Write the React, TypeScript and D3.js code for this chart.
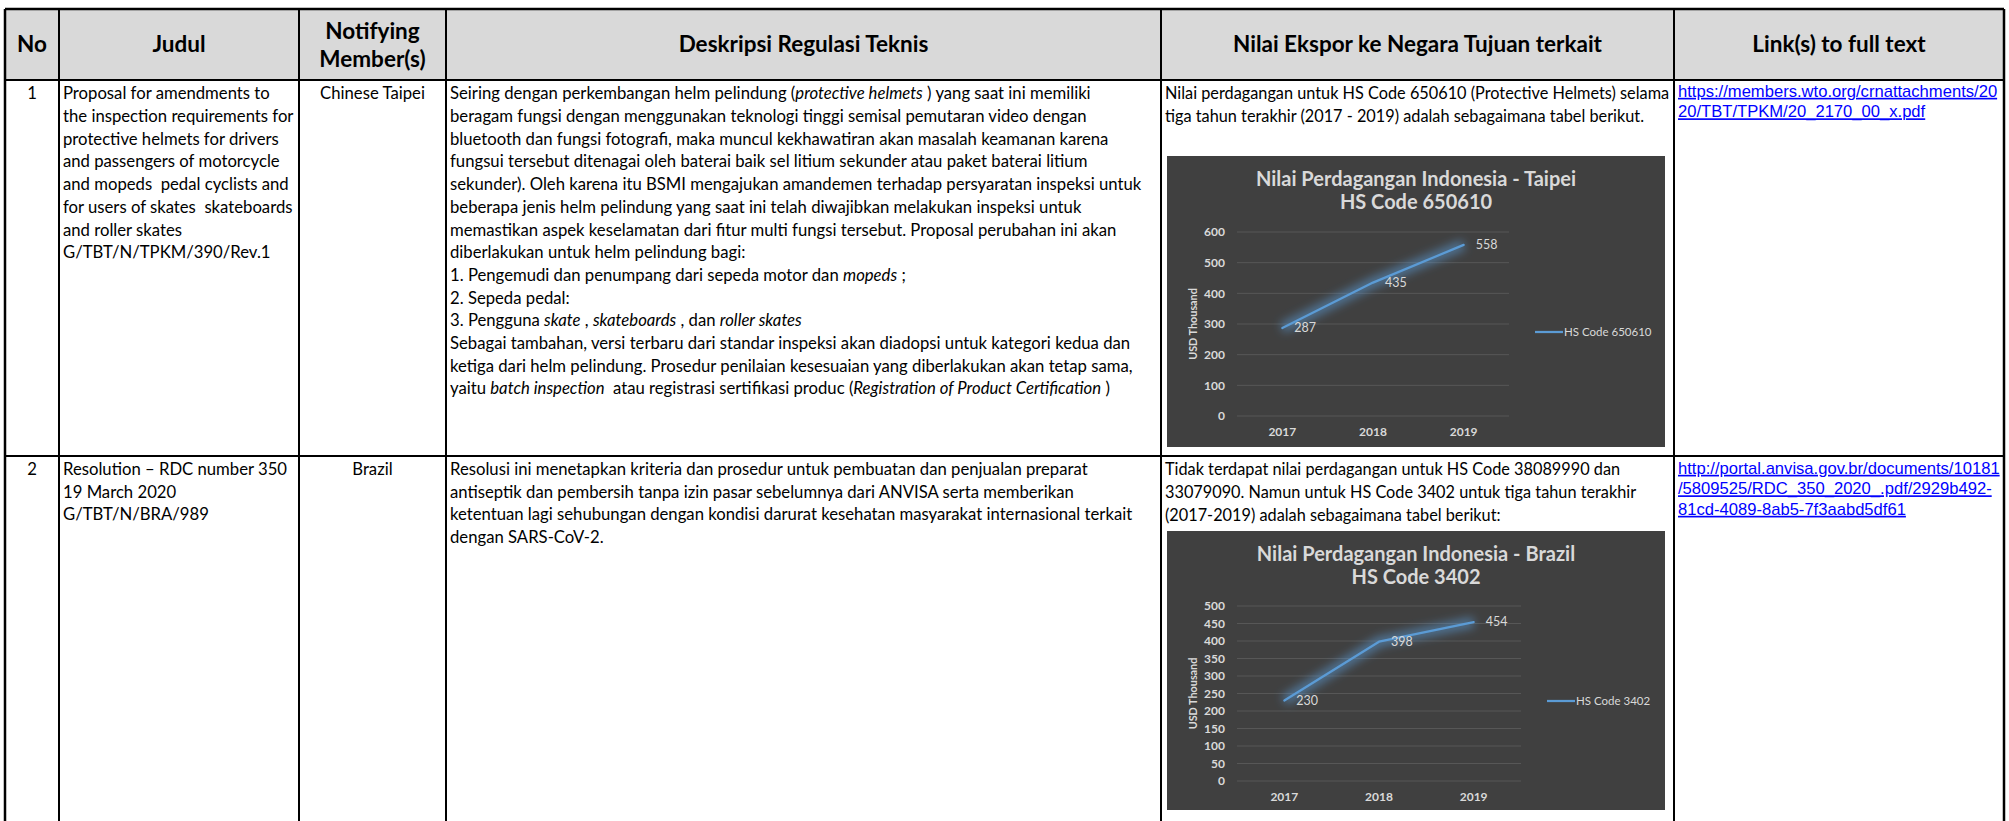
import React from "react";
import * as d3 from "d3";

// chart data
const years = ["2017", "2018", "2019"];
const taipeiValues = [287, 435, 558];
const brazilValues = [230, 398, 454];
const taipeiTicks = [0, 100, 200, 300, 400, 500, 600];
const brazilTicks = [0, 50, 100, 150, 200, 250, 300, 350, 400, 450, 500];

// table text ( _x_ = italic )
const headers = [["No"], ["Judul"], ["Notifying", "Member(s)"], ["Deskripsi Regulasi Teknis"], ["Nilai Ekspor ke Negara Tujuan terkait"], ["Link(s) to full text"]];

const row1Judul = [
  "Proposal for amendments to",
  "the inspection requirements for",
  "protective helmets for drivers",
  "and passengers of motorcycle",
  "and mopeds  pedal cyclists and",
  "for users of skates  skateboards",
  "and roller skates",
  "G/TBT/N/TPKM/390/Rev.1",
];
const row1Desc = [
  "Seiring dengan perkembangan helm pelindung (_protective helmets_ ) yang saat ini memiliki",
  "beragam fungsi dengan menggunakan teknologi tinggi semisal pemutaran video dengan",
  "bluetooth dan fungsi fotografi, maka muncul kekhawatiran akan masalah keamanan karena",
  "fungsui tersebut ditenagai oleh baterai baik sel litium sekunder atau paket baterai litium",
  "sekunder). Oleh karena itu BSMI mengajukan amandemen terhadap persyaratan inspeksi untuk",
  "beberapa jenis helm pelindung yang saat ini telah diwajibkan melakukan inspeksi untuk",
  "memastikan aspek keselamatan dari fitur multi fungsi tersebut. Proposal perubahan ini akan",
  "diberlakukan untuk helm pelindung bagi:",
  "1. Pengemudi dan penumpang dari sepeda motor dan _mopeds_ ;",
  "2. Sepeda pedal:",
  "3. Pengguna _skate_ , _skateboards_ , dan _roller skates_",
  "Sebagai tambahan, versi terbaru dari standar inspeksi akan diadopsi untuk kategori kedua dan",
  "ketiga dari helm pelindung. Prosedur penilaian kesesuaian yang diberlakukan akan tetap sama,",
  "yaitu _batch inspection_  atau registrasi sertifikasi produc (_Registration of Product Certification_ )",
];
const row1Nilai = [
  "Nilai perdagangan untuk HS Code 650610 (Protective Helmets) selama",
  "tiga tahun terakhir (2017 - 2019) adalah sebagaimana tabel berikut.",
];
const row1Link = ["https://members.wto.org/crnattachments/20", "20/TBT/TPKM/20_2170_00_x.pdf"];

const row2Judul = ["Resolution \u2013 RDC number 350", "19 March 2020", "G/TBT/N/BRA/989"];
const row2Desc = [
  "Resolusi ini menetapkan kriteria dan prosedur untuk pembuatan dan penjualan preparat",
  "antiseptik dan pembersih tanpa izin pasar sebelumnya dari ANVISA serta memberikan",
  "ketentuan lagi sehubungan dengan kondisi darurat kesehatan masyarakat internasional terkait",
  "dengan SARS-CoV-2.",
];
const row2Nilai = [
  "Tidak terdapat nilai perdagangan untuk HS Code 38089990 dan",
  "33079090. Namun untuk HS Code 3402 untuk tiga tahun terakhir",
  "(2017-2019) adalah sebagaimana tabel berikut:",
];
const row2Link = ["http://portal.anvisa.gov.br/documents/10181", "/5809525/RDC_350_2020_.pdf/2929b492-", "81cd-4089-8ab5-7f3aabd5df61"];

const W = 2009, H = 821;
const FONT = "Lato, 'Open Sans', sans-serif";
const colX = [5, 59, 299, 446, 1161, 1674, 2004];
const rowY = [9, 80, 456, 830];
const LH = 22.7;

function TextLines({ lines, x, y, anchor = "start", size = 16.7, lh = LH }: any) {
  return (
    <text x={x} y={y} fontFamily={FONT} fontSize={size} fill="#000" textAnchor={anchor} style={{ whiteSpace: "pre" }}>
      {lines.map((l: string, i: number) => (
        <tspan key={i} x={x} y={y + i * lh} dy="0.35em">
          {l.split("_").map((s, j) => (
            <tspan key={j} fontStyle={j % 2 ? "italic" : "normal"}>{s}</tspan>
          ))}
        </tspan>
      ))}
    </text>
  );
}

function LinkLines({ lines, x, y }: any) {
  return (
    <text x={x} y={y} fontFamily="'Liberation Sans', Arial, sans-serif" fontSize={16.6} fill="#0000ff" textDecoration="underline">
      {lines.map((l: string, i: number) => (
        <tspan key={i} x={x} y={y + i * 20.5} dy="0.35em">{l}</tspan>
      ))}
    </text>
  );
}

function LineChart({ x0, y0, w, h, title, values, ticks, plot, legend, legendY, id }: any) {
  const xs = d3.scaleBand().domain(years).range([plot.l, plot.r]);
  const ys = d3.scaleLinear().domain([0, d3.max(ticks) as number]).range([plot.b, plot.t]);
  const px = (i: number) => (xs(years[i]) as number) + xs.bandwidth() / 2;
  const line = d3.line<number>().x((d, i) => px(i)).y((d) => ys(d));
  const light = "#d9d9d9";
  return (
    <g transform={`translate(${x0},${y0})`} fontFamily={FONT}>
      <defs>
        <filter id={id} x="-30%" y="-60%" width="160%" height="220%">
          <feGaussianBlur stdDeviation="5" />
        </filter>
      </defs>
      <rect width={w} height={h} fill="#404040" />
      <text x={w / 2} y={23} textAnchor="middle" fontWeight="bold" fontSize={20} fill={light}>
        <tspan x={w / 2} dy="0.35em">{title[0]}</tspan>
        <tspan x={w / 2} dy="23">{title[1]}</tspan>
      </text>
      {ticks.map((t: number) => (
        <g key={t}>
          <line x1={plot.l} x2={plot.r} y1={ys(t)} y2={ys(t)} stroke="#575757" strokeWidth={1} />
          <text x={plot.l - 12} y={ys(t)} dy="0.35em" textAnchor="end" fontSize={12} fontWeight="bold" fill={light}>{t}</text>
        </g>
      ))}
      {years.map((yr, i) => (
        <text key={yr} x={px(i)} y={plot.b + 16} dy="0.35em" textAnchor="middle" fontSize={12} fontWeight="bold" fill={light}>{yr}</text>
      ))}
      <text transform={`translate(26,${(plot.t + plot.b) / 2}) rotate(-90)`} textAnchor="middle" dy="0.35em" fontSize={10.8} fontWeight="bold" fill={light}>USD Thousand</text>
      <path d={line(values) as string} fill="none" stroke="#5b9bd5" strokeWidth={10} strokeOpacity={0.6} filter={`url(#${id})`} />
      <path d={line(values) as string} fill="none" stroke="#5b9bd5" strokeWidth={2.25} strokeLinejoin="round" strokeLinecap="round" />
      {values.map((v: number, i: number) => (
        <text key={i} x={px(i) + 12} y={ys(v)} dy="0.35em" fontSize={12.5} fill={light}>{v}</text>
      ))}
      <line x1={legend} x2={legend + 28} y1={legendY} y2={legendY} stroke="#5b9bd5" strokeWidth={2.25} />
      <text x={legend + 29} y={legendY} dy="0.35em" fontSize={11.5} fill={light}>{title[1]}</text>
    </g>
  );
}

export default function App() {
  const cx = (i: number) => (colX[i] + colX[i + 1]) / 2;
  const r1 = 93.5, r2 = 469;
  return (
    <svg width={W} height={H} style={{ position: "absolute", left: 0, top: 0, background: "#fff" }}>
      <rect x={colX[0]} y={rowY[0]} width={colX[6] - colX[0]} height={rowY[1] - rowY[0]} fill="#d9d9d9" />
      {headers.map((hd, i) => (
        <text key={i} x={cx(i)} textAnchor="middle" fontFamily={FONT} fontWeight="bold" fontSize={22.5} fill="#000">
          {hd.map((s, j) => (
            <tspan key={j} x={cx(i)} y={hd.length > 1 ? 31 + j * 28 : 44.5} dy="0.35em">{s}</tspan>
          ))}
        </text>
      ))}

      {/* row 1 */}
      <TextLines lines={["1"]} x={cx(0)} y={r1} anchor="middle" />
      <TextLines lines={row1Judul} x={colX[1] + 4} y={r1} />
      <TextLines lines={["Chinese Taipei"]} x={cx(2)} y={r1} anchor="middle" />
      <TextLines lines={row1Desc} x={colX[3] + 4} y={r1} />
      <TextLines lines={row1Nilai} x={colX[4] + 4} y={r1} size={16.3} />
      <LinkLines lines={row1Link} x={colX[5] + 4} y={91} />
      <LineChart id="glow1" x0={1167} y0={156} w={498} h={291}
        title={["Nilai Perdagangan Indonesia - Taipei", "HS Code 650610"]}
        values={taipeiValues} ticks={taipeiTicks}
        plot={{ l: 70, r: 342, t: 76, b: 260 }} legend={368} legendY={176} />

      {/* row 2 */}
      <TextLines lines={["2"]} x={cx(0)} y={r2} anchor="middle" />
      <TextLines lines={row2Judul} x={colX[1] + 4} y={r2} />
      <TextLines lines={["Brazil"]} x={cx(2)} y={r2} anchor="middle" />
      <TextLines lines={row2Desc} x={colX[3] + 4} y={r2} />
      <TextLines lines={row2Nilai} x={colX[4] + 4} y={r2} lh={23.3} size={16.3} />
      <LinkLines lines={row2Link} x={colX[5] + 4} y={468} />
      <LineChart id="glow2" x0={1167} y0={531} w={498} h={279}
        title={["Nilai Perdagangan Indonesia - Brazil", "HS Code 3402"]}
        values={brazilValues} ticks={brazilTicks}
        plot={{ l: 70, r: 354, t: 75, b: 250 }} legend={380} legendY={170} />

      {/* grid lines of the table */}
      {colX.map((x, i) => (
        <line key={"c" + i} x1={x} x2={x} y1={rowY[0]} y2={rowY[3]} stroke="#000" strokeWidth={i === 0 || i === 6 ? 2.5 : 2} />
      ))}
      {rowY.slice(0, 3).map((y, i) => (
        <line key={"r" + i} x1={colX[0]} x2={colX[6]} y1={y} y2={y} stroke="#000" strokeWidth={i === 0 ? 2.5 : 2} />
      ))}
    </svg>
  );
}
